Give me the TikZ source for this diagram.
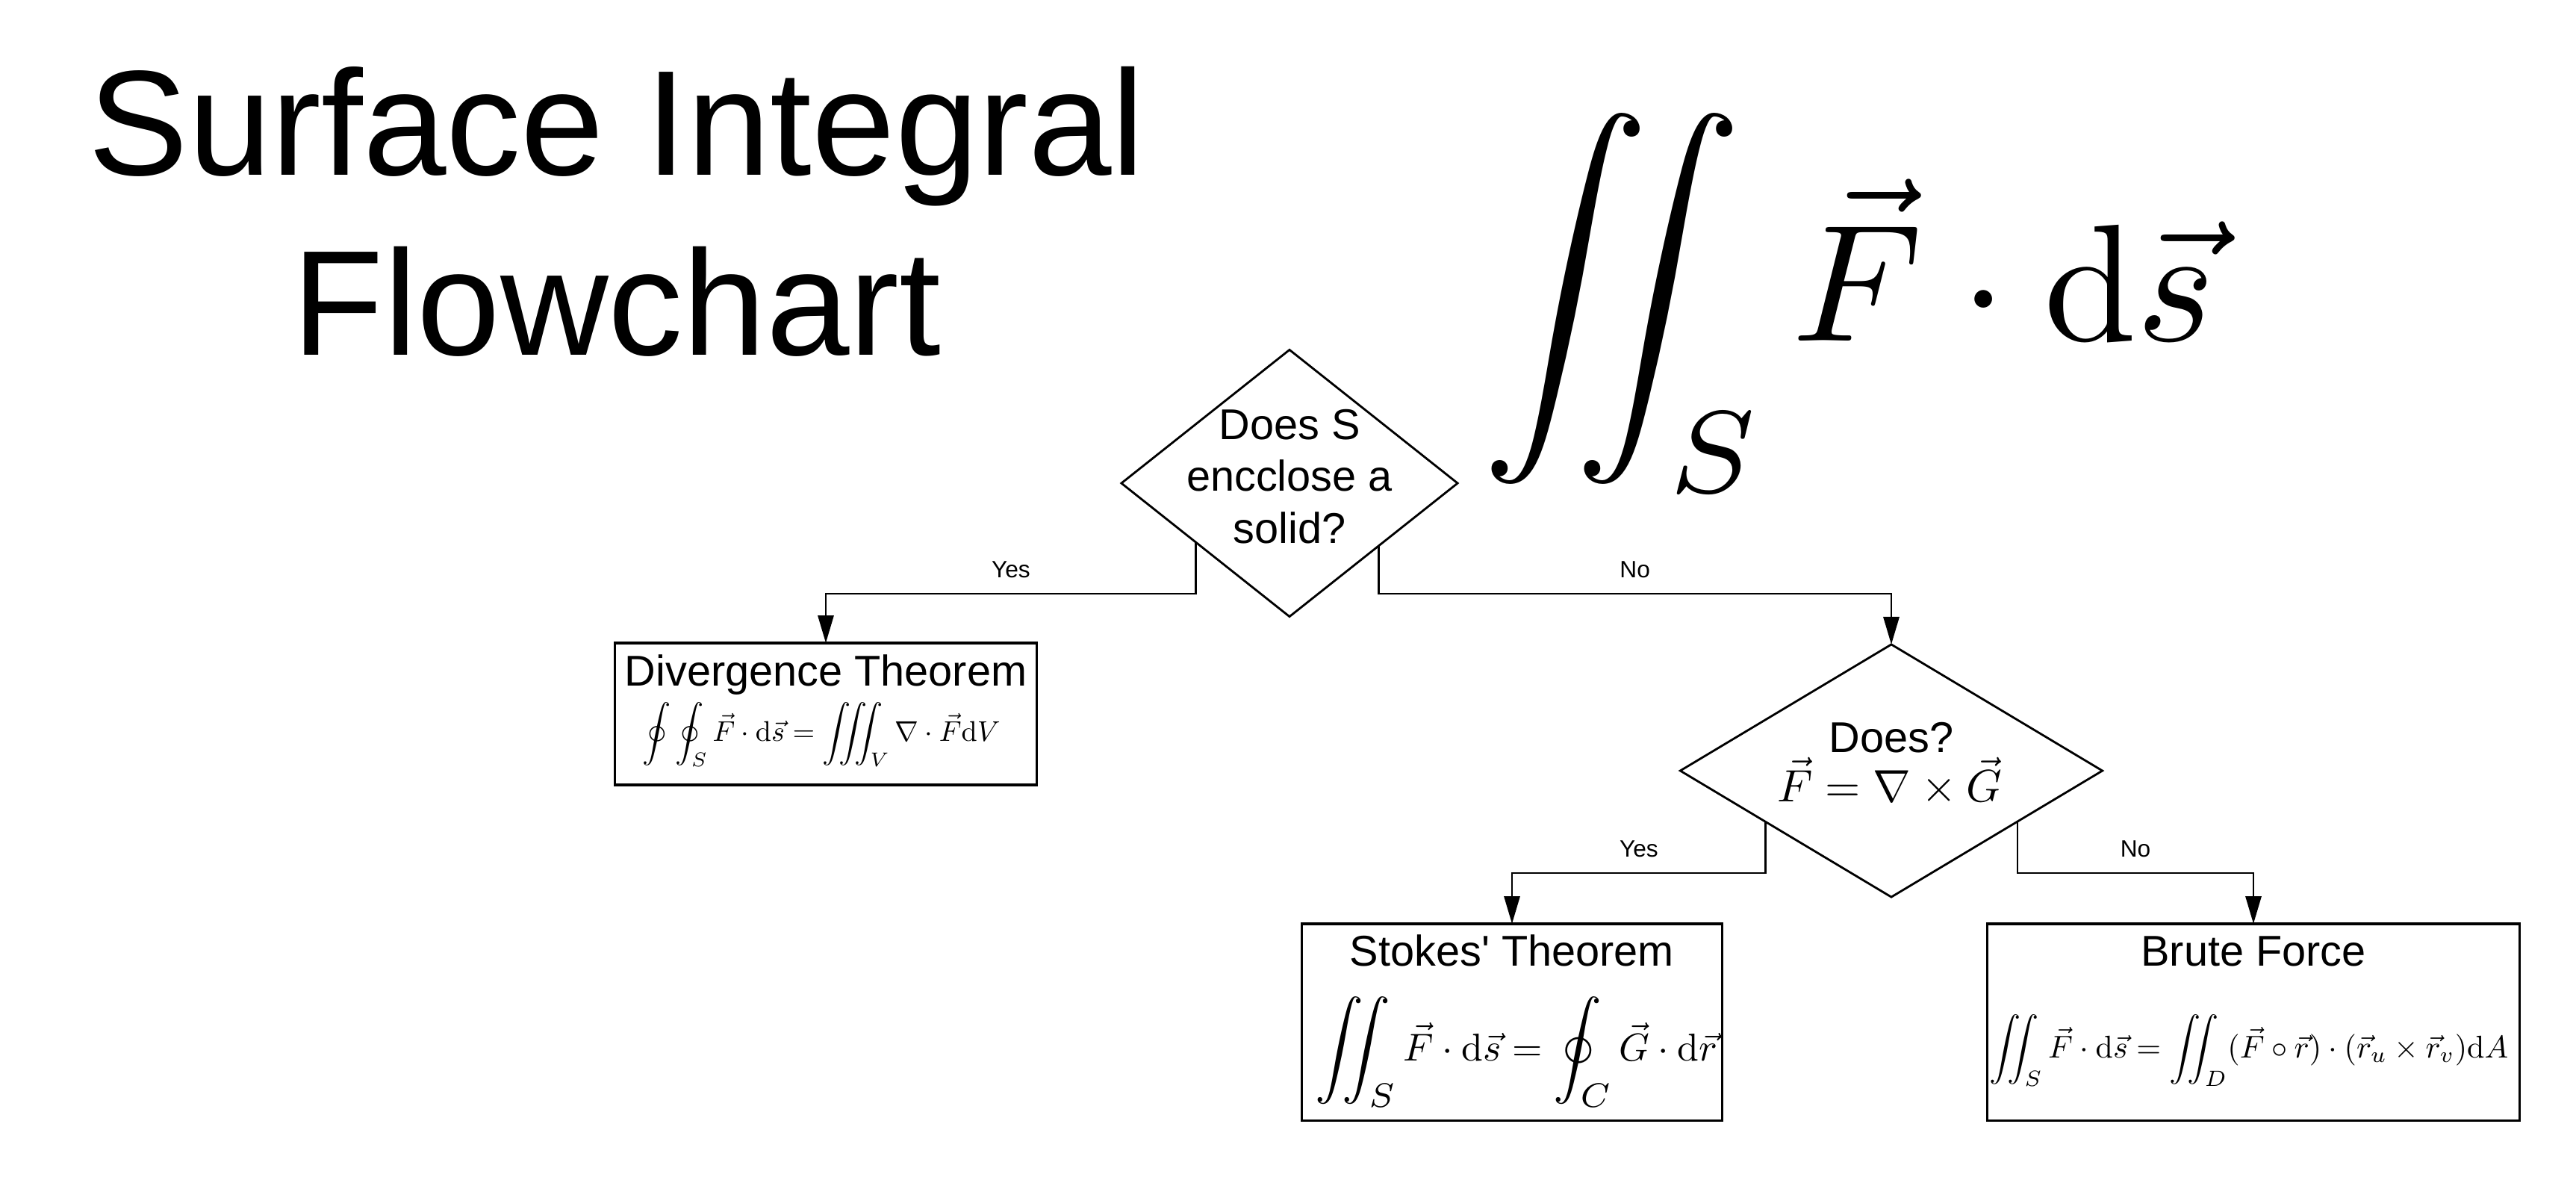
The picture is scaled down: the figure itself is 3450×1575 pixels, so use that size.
\documentclass[tikz,border=0pt]{standalone}
\usepackage[no-math]{fontspec}
\setmainfont{Liberation Sans}[Ligatures=TeXOff]
\usepackage{graphicx}
\usetikzlibrary{shapes.geometric,arrows.meta,calc}
\newcommand{\twoint}{\int\mkern-11mu\int}
\newcommand{\threeint}{\int\mkern-11mu\int\mkern-11mu\int}
\newcommand{\Bigop}[1]{\mathop{\raisebox{-0.0625em}{\scalebox{1.25}{$\displaystyle#1$}}}}
\begin{document}
\begin{tikzpicture}[x=0.01cm,y=-0.01cm,
  every node/.style={inner sep=0pt, outer sep=0pt},
  dec/.style={draw, diamond, line width=0.8pt},
  procbox/.style={draw, rectangle, line width=0.9pt},
  conn/.style={line width=0.8pt, -{Triangle[length=10.5pt,width=6pt]}},
  lbl/.style={font=\fontsize{9}{11}\selectfont, anchor=base},
  ntext/.style={font=\fontsize{16.4}{19.9}\selectfont, anchor=base},
]
\useasboundingbox[fill=white] (0,0) rectangle (3450,1575);

% title
\node[anchor=base, font=\fontsize{57}{68.6}\selectfont] (title) at (826,234)
  {\begin{tabular}[t]{@{}c@{}}Surface Integral\\Flowchart\end{tabular}};

% big formula
\node[anchor=base] (bigint) at (2476,456)
  {\resizebox{9.8cm}{!}{$\displaystyle\twoint_S \vec{F}\cdot\mathrm{d}\vec{s}$}};

% decision 1
\node[dec, minimum width=4.5cm, minimum height=3.57cm] (d1) at (1727,647) {};
\node[ntext] (d1t) at (1727,588)
  {\begin{tabular}[t]{@{}c@{}}Does S\\encclose a\\solid?\end{tabular}};

% divergence box
\node[procbox, minimum width=5.65cm, minimum height=1.9cm] (div) at (1106,956) {};
\node[ntext] (divt) at (1106,918) {Divergence Theorem};
\node[anchor=base] (divf) at (1100,992)
  {\resizebox{4.79cm}{!}{$\displaystyle\oint\oint_S\vec{F}\cdot\mathrm{d}\vec{s}=\threeint_V\nabla\cdot\vec{F}\mathrm{d}V$}};

% decision 2
\node[dec, minimum width=5.65cm, minimum height=3.38cm] (d2) at (2533,1032) {};
\node[ntext] (d2t) at (2533,1007) {Does?};
\node[anchor=base] (d2f) at (2531,1073)
  {\resizebox{3.01cm}{!}{$\vec{F}=\nabla\times\vec{G}$}};

% stokes box
\node[procbox, minimum width=5.63cm, minimum height=2.63cm] (stokes) at (2025,1368.5) {};
\node[ntext] (stokest) at (2025,1293) {Stokes' Theorem};
\node[anchor=base] (stokesf) at (2031,1420)
  {\resizebox{5.39cm}{!}{$\displaystyle\Bigop{\twoint_S}\vec{F}\cdot\mathrm{d}\vec{s}=\Bigop{\oint_C}\vec{G}\cdot\mathrm{d}\vec{r}$}};

% brute force box
\node[procbox, minimum width=7.13cm, minimum height=2.63cm] (brute) at (3018,1368.5) {};
\node[ntext] (brutet) at (3018,1293) {Brute Force};
\node[anchor=base] (brutef) at (3012,1416)
  {\resizebox{6.94cm}{!}{$\displaystyle\twoint_S\vec{F}\cdot\mathrm{d}\vec{s}=\twoint_D(\vec{F}\circ\vec{r})\cdot(\vec{r}_u\times\vec{r}_v)\mathrm{d}A$}};

% connectors
\coordinate (s1) at ($(d1.west)!0.444!(d1.south)$);
\coordinate (s2) at ($(d1.south)!0.53!(d1.east)$);
\coordinate (s3) at ($(d2.west)!0.405!(d2.south)$);
\coordinate (s4) at ($(d2.south)!0.598!(d2.east)$);
\coordinate (h1) at (0,795);
\coordinate (h2) at (0,1169);

\draw[conn] (s1) -- (s1 |- h1) -| node[lbl, pos=0.25, yshift=6pt] (yes1) {Yes} (div.north);
\draw[conn] (s2) -- (s2 |- h1) -| node[lbl, pos=0.25, yshift=6pt] (no1) {No} (d2.north);
\draw[conn] (s3) -- (s3 |- h2) -| node[lbl, pos=0.25, yshift=6pt] (yes2) {Yes} (stokes.north);
\draw[conn] (s4) -- (s4 |- h2) -| node[lbl, pos=0.25, yshift=6pt] (no2) {No} (brute.north);
\end{tikzpicture}
\end{document}
